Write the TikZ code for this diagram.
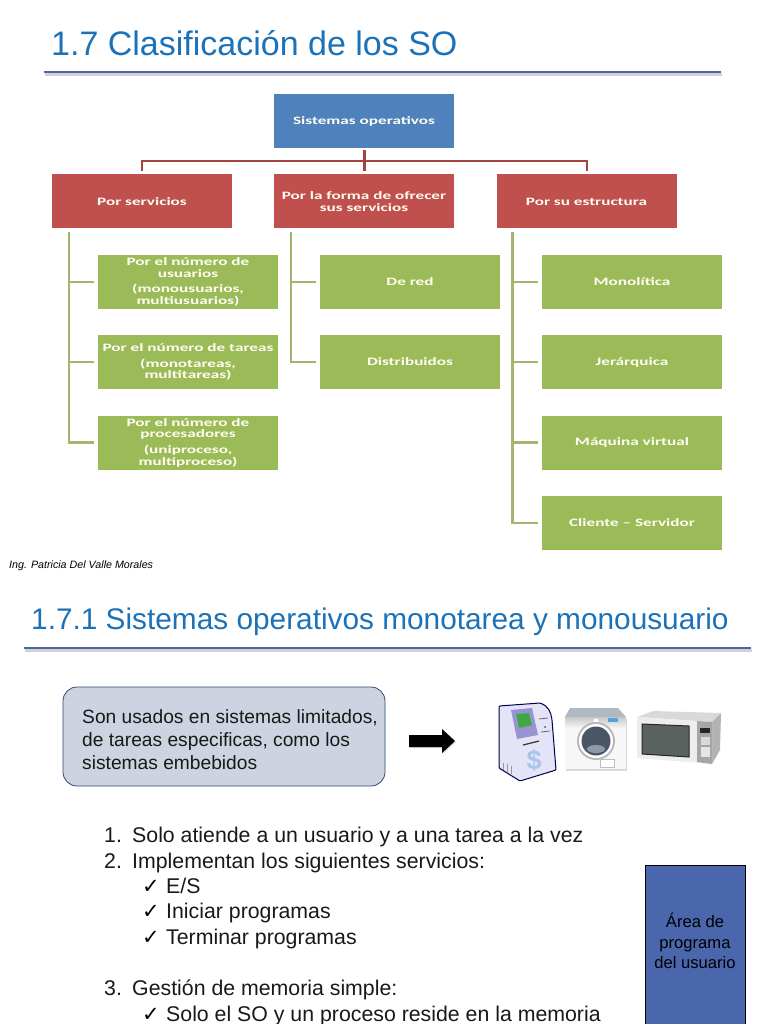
\documentclass[tikz,border=0pt]{standalone}
\usepackage{fontspec}
\setmainfont{Liberation Sans}
\newfontfamily\boxfont[FakeStretch=1.52]{Carlito}
\newfontfamily\checkfont{DejaVu Sans}
\definecolor{titleblue}{HTML}{1B72B8}
\definecolor{rulecol}{HTML}{4A66AC}
\definecolor{topblue}{HTML}{4F81BD}
\definecolor{boxred}{HTML}{C0504D}
\definecolor{boxgreen}{HTML}{9BBB59}
\definecolor{linegreen}{HTML}{A3B56F}
\definecolor{calloutfill}{HTML}{CDD3E0}
\definecolor{calloutline}{HTML}{2F4A78}
\definecolor{memblue}{HTML}{4A66AC}
\definecolor{atmbody}{HTML}{E4E3F8}
\definecolor{atmscreen}{HTML}{9A93D2}
\definecolor{atmgreen}{HTML}{3FA843}
\definecolor{atmdollar}{HTML}{A6C6EE}
\definecolor{drumdark}{HTML}{4A5668}
\definecolor{drumlight}{HTML}{8E99A8}
\definecolor{ovenglass}{HTML}{59625F}
\tikzset{
    chartbox/.style={minimum width=180pt, minimum height=54pt, inner sep=0pt, align=center,
        text=white!95!yellow, font=\boxfont\bfseries\fontsize{11.3}{11.7}\selectfont},
    bluebox/.style={chartbox, fill=topblue},
    redbox/.style={chartbox, fill=boxred},
    greenbox/.style={chartbox, fill=boxgreen},
    redline/.style={draw=boxred!85!black, line width=2pt},
    greenline/.style={draw=linegreen, line width=2.4pt, shorten >=4pt},
    titletext/.style={anchor=base west, inner sep=0pt, text=titleblue},
    listtext/.style={anchor=base west, inner sep=0pt, text=black!90, font=\fontsize{21.3}{25}\selectfont},
    checktext/.style={anchor=base west, inner sep=0pt, text=black, font=\checkfont\bfseries\fontsize{21}{22}\selectfont},
}
\begin{document}
\begin{tikzpicture}[x=1pt, y=-1pt]
    \useasboundingbox (0,0) rectangle (768,1024);
    % Titles and rules
    \node[titletext, font=\fontsize{34}{40}\selectfont] (titleone) at (51,56) {1.7 Clasificación de los SO};
    \draw[black!18, line width=2.5pt] (45,74.5) -- (722,74.5);
    \draw[rulecol, line width=2pt] (44,72) -- (721,72);
    \node[titletext, font=\fontsize{29.8}{35}\selectfont] (titletwo) at (31,629) {1.7.1 Sistemas operativos monotarea y monousuario};
    \draw[black!18, line width=2.5pt] (25,650.5) -- (752,650.5);
    \draw[rulecol, line width=2pt] (24,648) -- (751,648);
    \node[anchor=base west, inner sep=0pt, font=\itshape\fontsize{10.7}{12}\selectfont] (autora) at (9,568) {Ing. Patricia Del Valle Morales};
    % Chart boxes
    \node[bluebox] (sistemas) at (364,121) {Sistemas operativos};
    \node[redbox] (servicios) at (142,201.5) {Por servicios};
    \node[redbox] (forma) at (364,201.5) {Por la forma de ofrecer\\sus servicios};
    \node[redbox] (estructura) at (586.5,201.5) {Por su estructura};
    \node[greenbox] (usuarios) at (188,282) {Por el número de\\usuarios\\[4pt](monousuarios,\\multiusuarios)};
    \node[greenbox] (tareas) at (188,362) {Por el número de tareas\\[4pt](monotareas,\\multitareas)};
    \node[greenbox] (procesadores) at (188,442.5) {Por el número de\\procesadores\\[4pt](uniproceso,\\multiproceso)};
    \node[greenbox] (red) at (410,282) {De red};
    \node[greenbox] (distribuidos) at (410,362) {Distribuidos};
    \node[greenbox] (monolitica) at (632,282) {Monolítica};
    \node[greenbox] (jerarquica) at (632,362) {Jerárquica};
    \node[greenbox] (virtual) at (632,442.5) {Máquina virtual};
    \node[greenbox] (cliente) at (632,523) {Cliente – Servidor};
    % Red connectors
    \coordinate (bus) at (364,161);
    \draw[redline, line width=3pt] ([yshift=-2pt]sistemas.south) -- ([yshift=3pt]forma.north);
    \draw[redline] ([yshift=3pt]servicios.north) |- (bus) -| ([yshift=3pt]estructura.north);
    % Green connectors
    \draw[greenline] ([shift={(17,3)}]servicios.south west) |- (usuarios.west);
    \draw[greenline] ([shift={(17,3)}]servicios.south west) |- (tareas.west);
    \draw[greenline] ([shift={(17,3)}]servicios.south west) |- (procesadores.west);
    \draw[greenline] ([shift={(17,3)}]forma.south west) |- (red.west);
    \draw[greenline] ([shift={(17,3)}]forma.south west) |- (distribuidos.west);
    \draw[greenline] ([shift={(16,3)}]estructura.south west) |- (monolitica.west);
    \draw[greenline] ([shift={(16,3)}]estructura.south west) |- (jerarquica.west);
    \draw[greenline] ([shift={(16,3)}]estructura.south west) |- (virtual.west);
    \draw[greenline] ([shift={(16,3)}]estructura.south west) |- (cliente.west);
    % Callout and block arrow
    \node[draw=calloutline, fill=calloutfill, rounded corners=14pt, line width=0.8pt, minimum width=322pt,
        minimum height=99pt, inner sep=0pt] (limitados) at (224,736.5) {};
    \node[anchor=west, inner sep=0pt, align=left, text=black!90, font=\fontsize{19.2}{22.8}\selectfont] (limitadostxt) at (82,739.5)
        {Son usados en sistemas limitados,\\de tareas especificas, como los\\sistemas embebidos};
    \fill[black!15] (410,736) -- (443,736) -- (443,730) -- (456,742) -- (443,754) -- (443,748) -- (410,748) -- cycle;
    \fill[black] (409,735) -- (442,735) -- (442,729) -- (455,741) -- (442,753) -- (442,747) -- (409,747) -- cycle;
    % ATM
    \draw[fill=atmbody, draw=black!70!blue, line width=1pt, rounded corners=1pt]
        (499,706) -- (540,703) .. controls (548,706) and (551,712) .. (552,720) -- (556,770) -- (520,781) -- (499,768) -- cycle;
    \fill[atmscreen] (511,710) -- (532,708) -- (538,735) -- (517,739) -- cycle;
    \fill[atmgreen] (516,714) -- (529,713) -- (532,725) -- (519,728) -- cycle;
    \draw[black!80, line width=1.2pt] (523,745) -- (539,741);
    \draw[black!60, line width=0.8pt] (539,719) -- (548,718);
    \draw[black!60, line width=0.8pt] (541,732) -- (550,731);
    \fill[black!70] (545,727) circle (1);
    \draw[black!40, line width=0.6pt] (503,763) -- (503,770) (507,764) -- (507,772) (511,766) -- (511,774);
    \node[inner sep=0pt, text=atmdollar, font=\bfseries\fontsize{27}{27}\selectfont] (dolar) at (534,760) {\$};
    % Washing machine
    \fill[black!15] (566,719) rectangle (627,771);
    \fill[drumlight!70] (565,717) -- (570,708) -- (618,708) -- (626,717) -- cycle;
    \shade[top color=black!22, bottom color=black!3] (565,717) rectangle (626,728);
    \fill[black!3] (565,728) rectangle (626,769);
    \fill[cyan!70!blue!70] (608,718) rectangle (618,722);
    \fill[white] (596,721) circle (2.5);
    \fill[black!28] (596,741) circle (19);
    \fill[white] (596,741) circle (17);
    \fill[drumdark] (596,741) circle (14.5);
    \fill[drumlight] (596,749) ellipse (9 and 4);
    \draw[black!25, fill=white] (600,759) rectangle (614,767);
    % Microwave
    \fill[black!15] (637,717) -- (653,711) -- (721,713) -- (712,722) -- cycle;
    \fill[black!30] (712,722) -- (721,713) -- (720,750) -- (712,764) -- cycle;
    \fill[black!7] (637,717) -- (712,722) -- (712,764) -- (637,758) -- cycle;
    \fill[black!35] (697,721) -- (712,722) -- (712,764) -- (697,762) -- cycle;
    \draw[black!85, fill=ovenglass, line width=1pt] (642,724) -- (689,726) -- (689,757) -- (642,754) -- cycle;
    \fill[black!85] (700,728) rectangle (710,733);
    \fill[black!15] (701,737) rectangle (710,745);
    \fill[black!10] (701,747) rectangle (710,757);
    % Numbered list
    \node[listtext] (uno) at (104,842) {1.};
    \node[listtext] (unotxt) at (132,842) {Solo atiende a un usuario y a una tarea a la vez};
    \node[listtext] (dos) at (104,868) {2.};
    \node[listtext] (dostxt) at (132,868) {Implementan los siguientes servicios:};
    \node[checktext] (chka) at (142,893) {✓};
    \node[listtext] (es) at (166,893) {E/S};
    \node[checktext] (chkb) at (142,918) {✓};
    \node[listtext] (iniciar) at (166,918) {Iniciar programas};
    \node[checktext] (chkc) at (142,944) {✓};
    \node[listtext] (terminar) at (166,944) {Terminar programas};
    \node[listtext] (tres) at (104,995) {3.};
    \node[listtext] (trestxt) at (132,995) {Gestión de memoria simple:};
    \node[checktext] (chkd) at (142,1021) {✓};
    \node[listtext] (reside) at (166,1021) {Solo el SO y un proceso reside en la memoria};
    % Memory box, cut by the page edge
    \draw[fill=memblue, draw=black, line width=0.6pt] (645,865) rectangle (745,1030);
    \node[inner sep=0pt, align=center, text=black, font=\fontsize{16.6}{20.5}\selectfont] (areauser) at (695,941)
        {Área de\\programa\\del usuario};
\end{tikzpicture}
\end{document}
